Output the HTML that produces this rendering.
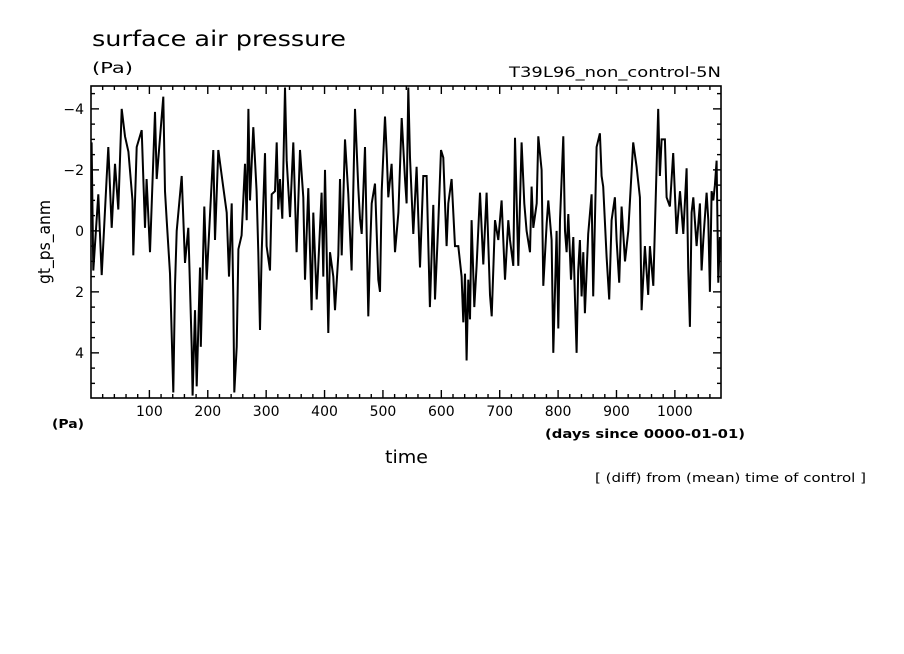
<!DOCTYPE html>
<html><head><meta charset="utf-8"><style>
html,body{margin:0;padding:0;background:#fff;}
svg{display:block;font-family:"DejaVu Sans","Liberation Sans",sans-serif;}
</style></head><body>
<svg id="chart" width="904" height="654" viewBox="0 0 904 654">
<text x="92" y="46" font-size="21" textLength="254" lengthAdjust="spacingAndGlyphs">surface air pressure</text>
<text x="92" y="73" font-size="15" textLength="41" lengthAdjust="spacingAndGlyphs">(Pa)</text>
<text x="509" y="77" font-size="14" textLength="212" lengthAdjust="spacingAndGlyphs">T39L96_non_control-5N</text>
<text x="50" y="242" font-size="17" text-anchor="middle" textLength="84" lengthAdjust="spacingAndGlyphs" transform="rotate(-90 50 242)">gt_ps_anm</text>
<text x="52" y="428" font-size="12" font-weight="bold" textLength="32" lengthAdjust="spacingAndGlyphs">(Pa)</text>
<text x="545" y="438" font-size="12" font-weight="bold" textLength="200" lengthAdjust="spacingAndGlyphs">(days since 0000-01-01)</text>
<text x="385" y="463" font-size="18" textLength="43" lengthAdjust="spacingAndGlyphs">time</text>
<text x="595" y="482" font-size="12" textLength="271" lengthAdjust="spacingAndGlyphs">[ (diff) from (mean) time of control ]</text>
<g id="ticks"></g>
<path id="series" fill="none" stroke="#000" stroke-width="2" stroke-linejoin="miter"></path>
<rect x="91" y="86" width="630" height="312" fill="none" stroke="#000" stroke-width="1.6"></rect>
</svg>
<script>
const days=[1,4,12.5,18.3,26.8,29.7,35.4,41.1,46.8,52.5,58.2,64,71,72.5,78.2,86.8,92.5,95.3,101,109.6,112.5,123.9,126.7,129.6,135.3,141,143.9,146.7,155.3,161,166.7,172.4,174,178.1,181,186.7,188,194.1,198.1,209.5,212.4,218.1,226.7,232.4,236.4,240.9,243.8,245.5,249.5,252.4,258,263.8,266.6,269.5,272.3,278,283.7,286.5,289.4,292.3,298,300.8,306.5,309.4,315.1,318,320.8,323.7,327.7,332.2,335.1,340.8,346.5,352.2,357.9,363.6,366.5,372.2,377.9,380.8,386.5,395,397.9,400.7,406.5,409.3,415,417.9,423.6,426.4,429.3,435,440.7,446.4,452.1,457.8,460.7,463.6,469.3,475,477.8,480.7,486.4,492.1,495,497.8,503.5,506.4,509.2,514.9,520.6,526.4,532.1,537.8,540.6,543.5,546.3,552,557.7,563.4,569.1,574.8,580.5,586.2,589.1,594.8,599.4,603.4,609.1,611.9,617.6,623.4,629.1,634.8,637.6,640.5,643.3,646.2,649.1,651.9,656.5,660.5,666.2,671.9,677.6,683.3,686.2,691.9,697.6,703.3,709,714.7,717.6,723.3,726.1,731.8,737.5,742.1,746.1,751.8,754.7,757.5,763.3,766.1,771.8,774.7,780.4,783.2,788.9,791.8,797.5,800.4,803.2,808.9,811.8,814.6,817.5,822.1,826,828.8,831.7,834.5,837.4,840.2,843.1,845.9,851.6,857.3,860.2,865.9,871.6,874.5,877.3,883,887.6,891.6,897.3,900.2,904.7,908.7,914.5,920.2,928.7,934.4,940.1,943,948.7,954.4,957.3,963,965.8,971.5,974.4,977.3,983,985.8,991.5,997.2,1003,1008.7,1014.4,1020.1,1022.9,1025.8,1028.6,1031.5,1037.2,1042.9,1045.8,1048.6,1054.3,1057.2,1060,1062.9,1065.8,1068.6,1071.5,1074.3,1077.2];
const values=[-2.9,1.3,-1.2,1.45,-1.7,-2.75,-0.1,-2.2,-0.7,-4.0,-3.1,-2.6,-1.0,0.8,-2.75,-3.3,-0.1,-1.7,0.7,-3.9,-1.7,-4.4,-1.3,-0.35,1.4,5.3,1.8,0,-1.8,1.05,-0.1,3.8,5.4,2.6,5.1,1.2,3.8,-0.8,1.6,-2.65,0.3,-2.65,-1.4,-0.6,1.5,-0.9,2.2,5.3,3.8,0.6,0.15,-2.2,-0.35,-4.0,-1.0,-3.4,-1.3,0.7,3.25,0.7,-2.55,0.5,1.3,-1.2,-1.3,-2.9,-0.7,-1.7,-0.4,-4.7,-2.3,-0.45,-2.9,0.7,-2.65,-1.1,1.6,-1.4,2.6,-0.6,2.25,-1.25,1.5,-2.0,3.35,0.7,1.5,2.6,0.8,-1.7,0.8,-3.0,-1.2,1.3,-4.0,-1.4,-0.4,0.1,-2.75,2.8,0.7,-0.9,-1.55,1.6,2.0,-1.3,-3.75,-2.55,-1.1,-2.2,0.7,-0.6,-3.7,-1.7,-0.9,-4.7,-2.4,0.1,-2.1,1.2,-1.8,-1.8,2.5,-0.85,2.25,-0.25,-2.65,-2.4,0.5,-0.9,-1.7,0.5,0.5,1.5,3.0,1.4,4.25,1.6,2.9,-0.35,2.5,1.15,-1.25,1.1,-1.25,2.1,2.8,-0.35,0.3,-1.0,1.6,-0.35,0.3,1.15,-3.05,1.15,-2.9,-0.9,0,0.7,-1.45,-0.1,-0.9,-3.1,-2.0,1.8,-0.25,-1.0,0.3,4.0,0,3.2,-0.35,-3.1,0,0.7,-0.55,1.6,0.2,2.15,4.0,1.3,0.3,2.15,0.7,2.7,0.1,-1.2,2.15,-2.75,-3.2,-1.8,-1.45,0.85,2.25,-0.35,-1.1,0.3,1.7,-0.8,1.0,0,-2.9,-2.1,-1.1,2.6,0.5,2.1,0.5,1.8,-0.1,-4.0,-1.8,-3.0,-3.0,-1.1,-0.8,-2.55,0.1,-1.3,0.1,-2.05,1.2,3.15,-0.6,-1.1,0.5,-0.9,1.3,0.3,-1.25,-0.35,2.0,-1.3,-1.0,-1.5,-2.3,1.7,0.2];
const yTickLabels=["-4","-2","0","2","4"];
const yTickValues=[-4,-2,0,2,4];
const xTickValues=[100,200,300,400,500,600,700,800,900,1000];
const xTickLabels=["100","200","300","400","500","600","700","800","900","1000"];

const L=91,R=721,T=86,B=398;
const xMin=0,xMax=1079,yTop=-4.75,yBot=5.48;
function xs(d){return L+(d-xMin)/(xMax-xMin)*(R-L);}
function ys(v){return T+(v-yTop)/(yBot-yTop)*(B-T);}
const NS="http://www.w3.org/2000/svg";
const g=document.getElementById('ticks');
function line(x1,y1,x2,y2,name){
  const l=document.createElementNS(NS,'line');
  l.setAttribute('x1',x1);l.setAttribute('y1',y1);l.setAttribute('x2',x2);l.setAttribute('y2',y2);
  l.setAttribute('stroke','#000');l.setAttribute('stroke-width','1.4');
  
  
  g.appendChild(l);
}
function text(x,y,s,anchor,name){
  const t=document.createElementNS(NS,'text');
  t.setAttribute('x',x);t.setAttribute('y',y);t.setAttribute('font-size','14');
  t.setAttribute('text-anchor',anchor);t.textContent=s;
  
  
  g.appendChild(t);
}
for(let d=20;d<xMax;d+=20){
  const major=d%100===0;const len=major?8:4;const x=xs(d);
  line(x,B,x,B-len,'x-tick');
  line(x,T,x,T+len,'x-tick-top');
}
xTickValues.forEach((d,i)=>text(xs(d),416,xTickLabels[i],'middle','x-tick-label'));
for(let v=-4.5;v<=5.01;v+=0.5){
  const major=Math.abs(v%2)<1e-6;const len=major?8:4;const y=ys(v);
  line(L,y,L+len,y,'y-tick');
  line(R,y,R-len,y,'y-tick-right');
}
yTickValues.forEach((v,i)=>text(84,ys(v)+5,yTickLabels[i].replace('-','\u2212'),'end','y-tick-label'));
let d='';
days.forEach((dd,i)=>{d+=(i?'L':'M')+xs(dd).toFixed(1)+','+ys(values[i]).toFixed(1);});
document.getElementById('series').setAttribute('d',d);
</script>
</body></html>
